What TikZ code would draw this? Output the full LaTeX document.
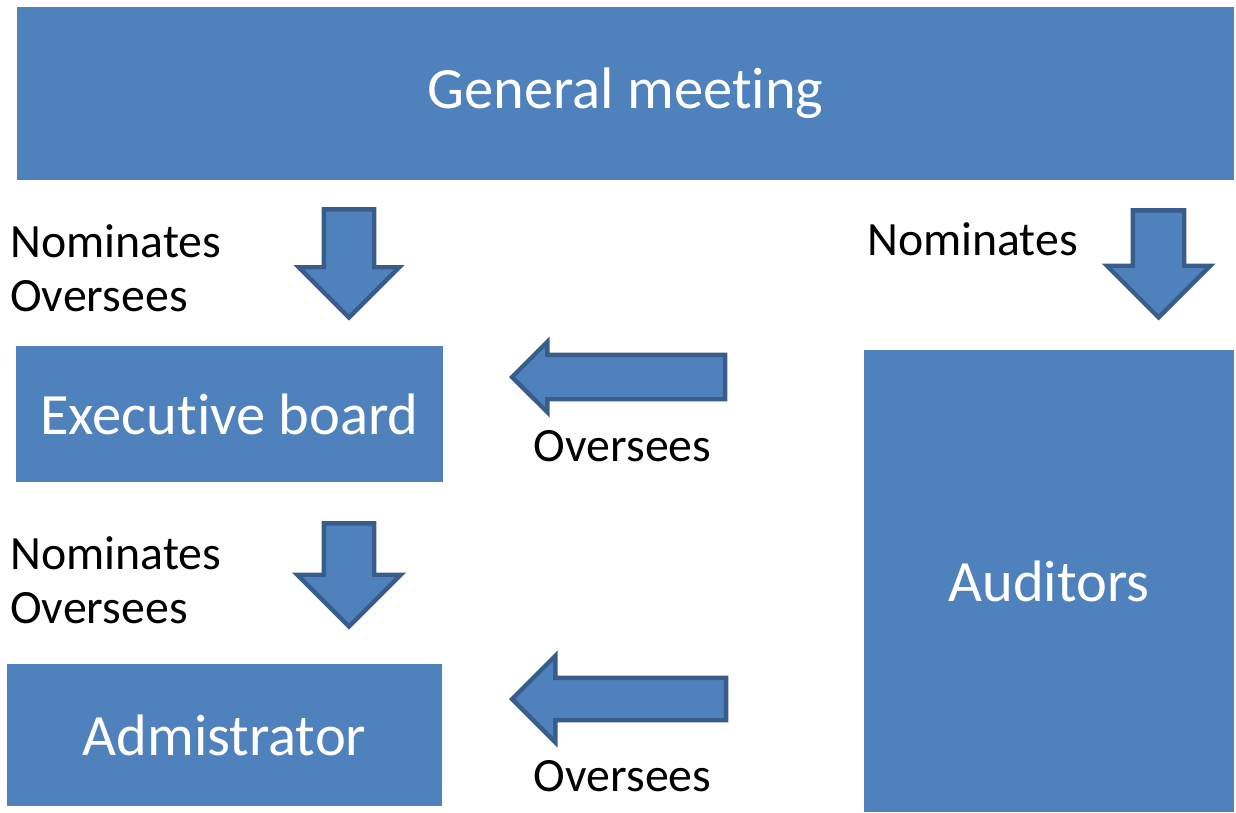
\documentclass[tikz,border=0pt]{standalone}
\usepackage{fontspec}
\setmainfont[Ligatures={NoCommon}]{Carlito}
\usetikzlibrary{shapes, shapes.arrows, positioning}
\definecolor{boxblue}{HTML}{4F81BD}
\definecolor{edgeblue}{HTML}{385D8A}
\tikzstyle{organ} = [rectangle, inner sep=0pt, text centered, fill=boxblue, text=white, font=\fontsize{33.3}{40}\selectfont]
\tikzstyle{blockarrow} = [single arrow, draw=edgeblue, fill=boxblue, line width=2.5pt, inner xsep=0pt, anchor=tip]
\tikzstyle{duty} = [inner sep=0pt, align=left, font=\fontsize{27.2}{30.6}\selectfont]

\begin{document}
\begin{tikzpicture}[x=0.02cm, y=-0.02cm]
    \useasboundingbox (0,0) rectangle (1236,812);

    % Nodes
    \node (meeting) [organ, minimum width=24.34cm, minimum height=3.46cm] at (625.5,93.5) {General meeting};
    \node (board) [organ, minimum width=8.54cm, minimum height=2.72cm] at (229.5,414) {Executive board};
    \node (admin) [organ, minimum width=8.7cm, minimum height=2.84cm] at (224.5,735) {Admistrator};
    \node (auditors) [organ, minimum width=7.4cm, minimum height=9.24cm] at (1049,581) {Auditors};

    % Block arrows (placed by their tips)
    \node (meettoboard) [blockarrow, rotate=-90, minimum height=2.16cm, inner ysep=0.46cm, single arrow head extend=0.5cm] at (349,320.5) {};
    \node (boardtoadmin) [blockarrow, rotate=-90, minimum height=2.06cm, inner ysep=0.46cm, single arrow head extend=0.53cm] at (349,629.5) {};
    \node (meettoaud) [blockarrow, rotate=-90, minimum height=2.14cm, inner ysep=0.47cm, single arrow head extend=0.52cm] at (1158.5,320.5) {};
    \node (audtoboard) [blockarrow, rotate=180, minimum height=4.26cm, inner ysep=0.4cm, single arrow head extend=0.26cm] at (509,377) {};
    \node (audtoadmin) [blockarrow, rotate=180, minimum height=4.28cm, inner ysep=0.38cm, single arrow head extend=0.44cm] at (509,699) {};

    % Labels
    \node (duty1) [duty, anchor=north west] at (10,224) {Nominates\\Oversees};
    \node (duty2) [duty, anchor=north west] at (10,536) {Nominates\\Oversees};
    \node (duty3) [duty, anchor=north] at (972.5,222) {Nominates};
    \node (duty4) [duty, anchor=north] at (622.5,430) {Oversees};
    \node (duty5) [duty, anchor=north] at (622.5,760) {Oversees};
\end{tikzpicture}
\end{document}
